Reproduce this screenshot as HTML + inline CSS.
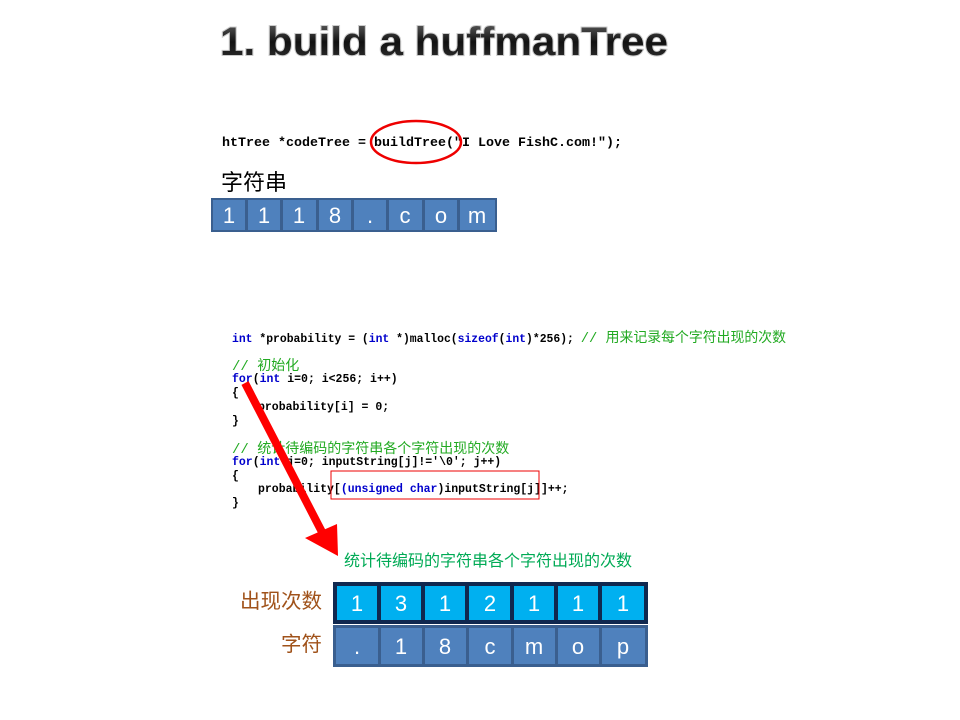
<!DOCTYPE html>
<html><head><meta charset="utf-8"><style>
body{margin:0;background:#fff;}
svg{display:block}
</style></head><body>
<svg width="960" height="720" viewBox="0 0 960 720" xmlns="http://www.w3.org/2000/svg">
<defs>
<linearGradient id="tg" x1="0" y1="0" x2="0" y2="1">
<stop offset="0" stop-color="#666"/><stop offset="0.5" stop-color="#111"/><stop offset="1" stop-color="#333"/>
</linearGradient>
</defs>
<text x="220" y="55" font-family="Liberation Sans, sans-serif" font-weight="bold" font-size="40" textLength="448" lengthAdjust="spacingAndGlyphs" fill="url(#tg)" stroke="#ccc" stroke-width="2" paint-order="stroke">1. build a huffmanTree</text>

<g font-family="Liberation Mono, monospace" font-weight="bold" font-size="12.5">
<text x="222" y="146" textLength="400" lengthAdjust="spacingAndGlyphs" fill="#000">htTree *codeTree = buildTree("I Love FishC.com!");</text>
</g>
<ellipse cx="416" cy="142" rx="45" ry="21" fill="none" stroke="#e00" stroke-width="2.5"/>

<text x="221" y="190" font-family="Liberation Sans, Noto Sans CJK SC, sans-serif" font-size="22" fill="#000">字符串</text>

<g font-family="Liberation Sans, sans-serif" font-size="22" fill="#fff" text-anchor="middle">
<rect x="211" y="198" width="286" height="34" fill="#3a5f8f"/>
<g fill="#4f81bd">
<rect x="213" y="200" width="32" height="30"/><rect x="248" y="200" width="32" height="30"/><rect x="283" y="200" width="33" height="30"/><rect x="319" y="200" width="32" height="30"/><rect x="354" y="200" width="32" height="30"/><rect x="389" y="200" width="33" height="30"/><rect x="425" y="200" width="32" height="30"/><rect x="460" y="200" width="35" height="30"/>
</g>
<text x="229" y="223">1</text><text x="264" y="223">1</text><text x="299" y="223">1</text><text x="335" y="223">8</text><text x="370" y="223">.</text><text x="405" y="223">c</text><text x="441" y="223">o</text><text x="477" y="223">m</text>
</g>

<g font-family="Liberation Mono, Noto Sans CJK SC, monospace" font-weight="bold" font-size="11.5" fill="#000">
<text x="232" y="342" textLength="554" lengthAdjust="spacingAndGlyphs"><tspan fill="#00c">int</tspan> *probability = (<tspan fill="#00c">int</tspan> *)malloc(<tspan fill="#00c">sizeof</tspan>(<tspan fill="#00c">int</tspan>)*256);  <tspan fill="#2a2" font-weight="normal" font-size="14">// 用来记录每个字符出现的次数</tspan></text>
<text x="232" y="370" fill="#2a2" font-weight="normal" font-size="14">// 初始化</text>
<text x="232" y="382"><tspan fill="#00c">for</tspan>(<tspan fill="#00c">int</tspan> i=0; i&lt;256; i++)</text>
<text x="232" y="396">{</text>
<text x="258" y="410">probability[i] = 0;</text>
<text x="232" y="424">}</text>
<text x="232" y="453" fill="#2a2" font-weight="normal" font-size="14">// 统计待编码的字符串各个字符出现的次数</text>
<text x="232" y="465"><tspan fill="#00c">for</tspan>(<tspan fill="#00c">int</tspan> j=0; inputString[j]!='\0'; j++)</text>
<text x="232" y="479">{</text>
<text x="258" y="492">probability[<tspan fill="#00c">(unsigned char</tspan>)inputString[j]]++;</text>
<text x="232" y="506">}</text>
</g>
<rect x="331" y="471" width="208" height="28" fill="none" stroke="#e00" stroke-width="1"/>

<line x1="245" y1="383" x2="322" y2="532" stroke="#f00" stroke-width="8"/>
<polygon points="305,538 337,524 338,556" fill="#f00"/>

<text x="344" y="566" font-family="Liberation Sans, Noto Sans CJK SC, sans-serif" font-size="16" fill="#0a5">统计待编码的字符串各个字符出现的次数</text>

<g font-family="Liberation Sans, Noto Sans CJK SC, sans-serif" font-size="20.5" fill="#a0521a" text-anchor="end">
<text x="322" y="608">出现次数</text>
<text x="322" y="651">字符</text>
</g>

<rect x="333" y="582" width="315" height="42" fill="#10284f"/>
<g fill="#00b0f0">
<rect x="337" y="586" width="40" height="34"/><rect x="381" y="586" width="40" height="34"/><rect x="425" y="586" width="40" height="34"/><rect x="469" y="586" width="41" height="34"/><rect x="514" y="586" width="40" height="34"/><rect x="558" y="586" width="40" height="34"/><rect x="602" y="586" width="42" height="34"/>
</g>
<rect x="333" y="625" width="315" height="42" fill="#3a5f8f"/>
<g fill="#4f81bd">
<rect x="336" y="628" width="42" height="36"/><rect x="381" y="628" width="41" height="36"/><rect x="425" y="628" width="41" height="36"/><rect x="469" y="628" width="42" height="36"/><rect x="514" y="628" width="41" height="36"/><rect x="558" y="628" width="41" height="36"/><rect x="602" y="628" width="43" height="36"/>
</g>
<g font-family="Liberation Sans, sans-serif" font-size="22" fill="#fff" text-anchor="middle">
<text x="357" y="611">1</text><text x="401" y="611">3</text><text x="445" y="611">1</text><text x="490" y="611">2</text><text x="534" y="611">1</text><text x="578" y="611">1</text><text x="623" y="611">1</text>
<text x="357" y="654">.</text><text x="401" y="654">1</text><text x="445" y="654">8</text><text x="490" y="654">c</text><text x="534" y="654">m</text><text x="578" y="654">o</text><text x="623" y="654">p</text>
</g>
</svg>
</body></html>
